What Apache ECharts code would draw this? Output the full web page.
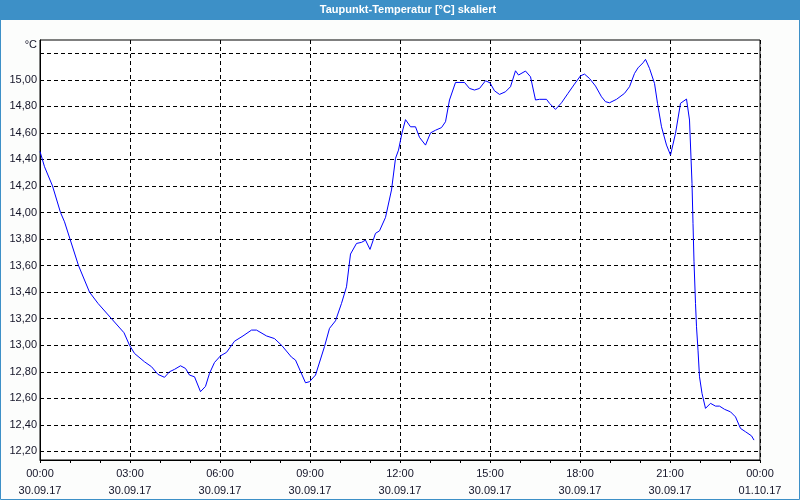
<!DOCTYPE html>
<html>
<head>
<meta charset="utf-8">
<script src="https://cdn.jsdelivr.net/npm/echarts@6/dist/echarts.min.js"></script>
<style>
html,body{margin:0;padding:0;background:#fcfdfc;}
#chart{width:800px;height:500px;}
</style>
</head>
<body>
<div id="chart"></div>
<script>
// ---- data ----
const titleText = 'Taupunkt-Temperatur [°C] skaliert';
const unitLabel = '°C';
// minutes since 30.09.17 00:00
const minutes = [0,9,25,41,49,60,77,99,116,143,168,179,189,209,223,236,249,259,269,281,291,299,309,321,331,339,349,361,373,389,406,423,433,453,469,484,503,511,531,539,551,569,579,591,603,613,621,633,643,651,660,671,679,691,703,711,717,724,731,741,751,759,771,781,791,803,811,819,831,849,859,869,879,891,900,909,919,931,941,951,957,961,971,981,991,999,1013,1019,1031,1043,1056,1069,1081,1089,1099,1111,1123,1131,1139,1153,1169,1179,1189,1196,1206,1211,1219,1229,1235,1243,1253,1261,1271,1281,1293,1299,1304,1306,1308,1311,1313,1316,1319,1324,1331,1341,1351,1359,1369,1381,1391,1401,1411,1423,1428];
const values = [14.46,14.345,14.20,14.00,13.93,13.80,13.60,13.40,13.315,13.20,13.094,13.00,12.938,12.875,12.838,12.78,12.758,12.80,12.818,12.845,12.825,12.775,12.762,12.65,12.69,12.788,12.87,12.92,12.946,13.03,13.07,13.114,13.114,13.07,13.05,12.996,12.91,12.888,12.717,12.725,12.775,12.99,13.127,13.184,13.315,13.44,13.687,13.767,13.775,13.792,13.722,13.843,13.862,13.963,14.17,14.408,14.47,14.60,14.70,14.646,14.646,14.566,14.508,14.60,14.62,14.64,14.684,14.848,14.98,14.98,14.935,14.923,14.935,14.993,14.977,14.917,14.89,14.91,14.948,15.068,15.036,15.03,15.066,15.023,14.848,14.853,14.853,14.823,14.777,14.827,14.898,14.968,15.03,15.043,15.01,14.953,14.872,14.835,14.827,14.853,14.898,14.948,15.048,15.09,15.128,15.154,15.086,14.973,14.823,14.646,14.508,14.433,14.596,14.823,14.855,14.697,14.22,13.918,13.629,13.315,13.139,12.963,12.762,12.637,12.524,12.562,12.541,12.541,12.517,12.498,12.46,12.373,12.348,12.317,12.285];
const yTicks = [12.2,12.4,12.6,12.8,13.0,13.2,13.4,13.6,13.8,14.0,14.2,14.4,14.6,14.8,15.0,15.2];
const yTickLabels = ['12,20','12,40','12,60','12,80','13,00','13,20','13,40','13,60','13,80','14,00','14,20','14,40','14,60','14,80','15,00',''];
const xTickTimes = ['00:00','03:00','06:00','09:00','12:00','15:00','18:00','21:00','00:00'];
const xTickDates = ['30.09.17','30.09.17','30.09.17','30.09.17','30.09.17','30.09.17','30.09.17','30.09.17','01.10.17'];

// ---- chart ----
const FONT = '"Liberation Sans Narrow", "Liberation Sans", sans-serif';
const TXT = '#141428';
const BLUE = '#3d90c7';
const chart = echarts.init(document.getElementById('chart'), null, {renderer: 'canvas'});
chart.setOption({
  animation: false,
  backgroundColor: '#fcfdfc',
  grid: {left: 40, right: 40, top: 40, bottom: 40, show: true, borderColor: '#000', borderWidth: 1, backgroundColor: '#ffffff'},
  xAxis: {
    type: 'value', min: 0, max: 1440, interval: 180,
    axisLine: {show: true, lineStyle: {color: '#000', width: 1}},
    axisTick: {show: true, length: 3, lineStyle: {color: '#000'}},
    minorTick: {show: true, splitNumber: 3, length: 3, lineStyle: {color: '#000'}},
    splitLine: {show: true, lineStyle: {color: '#000', width: 1, type: [4, 3]}},
    minorSplitLine: {show: false},
    axisLabel: {
      margin: 5, fontSize: 11, fontFamily: FONT, color: TXT, lineHeight: 17,
      formatter: function (v) { const i = Math.round(v / 180); return xTickTimes[i] + '\n' + xTickDates[i]; }
    }
  },
  yAxis: {
    type: 'value', min: 12.135, max: 15.30,
    axisLine: {show: true, lineStyle: {color: '#000'}},
    axisTick: {show: false}, axisLabel: {show: false}, splitLine: {show: false}
  },
  graphic: [
    {type: 'rect', z: 100, shape: {x: 0, y: 0, width: 800, height: 20}, style: {fill: BLUE}},
    {type: 'rect', z: 100, shape: {x: 0.5, y: 0.5, width: 799, height: 499}, style: {fill: 'none', stroke: BLUE, lineWidth: 1}},
    {type: 'text', z: 101, x: 408, y: 10, style: {text: titleText, fill: '#ffffff', font: 'bold 11px ' + FONT, align: 'center', verticalAlign: 'middle'}},
    {type: 'text', z: 101, x: 37, y: 45, style: {text: unitLabel, fill: TXT, font: '11px ' + FONT, align: 'right', verticalAlign: 'middle'}}
  ],
  series: [
    {
      type: 'line', data: [], z: 1, silent: true,
      markLine: {
        silent: true, symbol: 'none', z: 1, animation: false,
        lineStyle: {color: '#000', width: 1, type: [4, 3]},
        label: {position: 'start', distance: 3, fontSize: 11, fontFamily: FONT, color: TXT,
          formatter: function (p) { return yTickLabels[p.dataIndex]; }},
        emphasis: {disabled: true},
        data: yTicks.map(function (v) { return {yAxis: v}; })
      }
    },
    {
      type: 'line', z: 5, showSymbol: false, symbol: 'none', silent: true,
      lineStyle: {color: '#0000ff', width: 1},
      data: minutes.map(function (m, i) { return [m, values[i]]; })
    }
  ]
});
</script>
</body>
</html>
